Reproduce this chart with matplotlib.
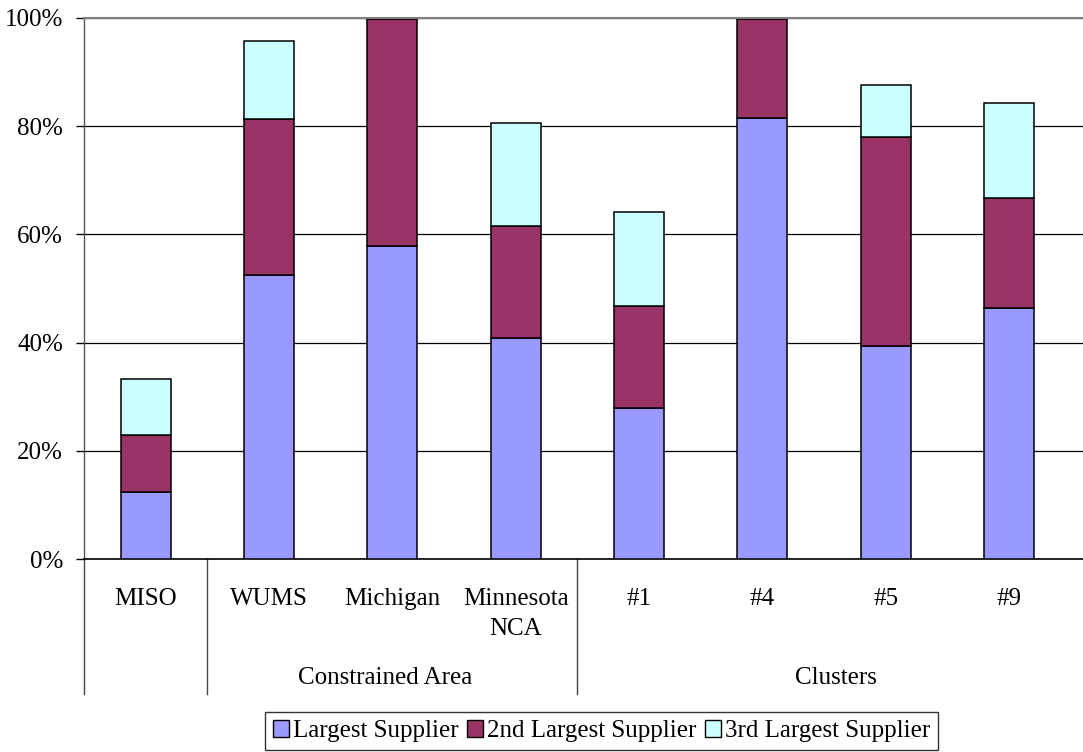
import matplotlib
matplotlib.use("Agg")
import matplotlib.pyplot as plt
import numpy as np
from matplotlib.ticker import PercentFormatter, MultipleLocator
from matplotlib.patches import Patch
import matplotlib.transforms as mtransforms

plt.rcParams['font.family'] = ['Liberation Serif', 'DejaVu Serif']

# Market share of the three largest suppliers (percent)
categories = ["MISO", "WUMS", "Michigan", "Minnesota\nNCA", "#1", "#4", "#5", "#9"]
largest = [12.4, 52.5, 57.9, 40.9, 28.0, 81.5, 39.4, 46.4]
second = [10.6, 28.9, 41.8, 20.6, 18.8, 18.3, 38.5, 20.4]
third = [10.3, 14.3, 0.3, 19.0, 17.4, 0.2, 9.6, 17.5]
series_names = ["Largest Supplier", "2nd Largest Supplier", "3rd Largest Supplier"]
colors = ["#9999FF", "#993366", "#CCFFFF"]

# Category groups: (label, label position along the category axis)
groups = [("Constrained Area", 1.94), ("Clusters", 5.6)]

W, H = 1083, 752
fig = plt.figure(figsize=(W / 100, H / 100), dpi=100)
left, right = 84, 1083
top, bottom = 17.8, 559.3
ax = fig.add_axes([left / W, 1 - bottom / H, (right - left) / W, (bottom - top) / H])

x = np.arange(len(categories))
bw = 0.405
fs = 18
bottoms = np.zeros(len(categories))
for vals, col in zip([largest, second, third], colors):
    ax.bar(x, vals, bw, bottom=bottoms, color=col, edgecolor="black",
           linewidth=1.1, zorder=3)
    bottoms += np.array(vals)

ax.set_xlim(-0.5, 7.6)
ax.set_ylim(0, 100)
ax.yaxis.set_major_locator(MultipleLocator(20))
ax.yaxis.set_major_formatter(PercentFormatter(decimals=0))
ax.yaxis.grid(True, color="black", linewidth=0.9, zorder=0)
ax.set_axisbelow(True)

ax.set_xticks(x)
ax.set_xticklabels(categories, fontsize=fs, linespacing=1.5)
ax.tick_params(axis="x", length=0, pad=20.5)
ax.tick_params(axis="y", labelsize=fs, length=6, width=1.0, pad=9,
               color="black")

ax.spines["right"].set_visible(False)
ax.spines["top"].set_color("#808080")
ax.spines["top"].set_linewidth(1.5)
ax.spines["top"].set_zorder(4)
ax.spines["left"].set_color("#555555")
ax.spines["left"].set_linewidth(1.0)
ax.spines["bottom"].set_color("black")
ax.spines["bottom"].set_linewidth(1.2)

# Group separators and group labels beneath the category axis
trans = mtransforms.blended_transform_factory(ax.transData, ax.transAxes)
sep_bottom = (bottom - 694) / (bottom - top)
for xs in [-0.5, 0.5, 3.5]:
    ax.plot([xs, xs], [0, sep_bottom], transform=trans, color="#444444",
            linewidth=1.0, clip_on=False)
label_y = (bottom - 678) / (bottom - top)
for name, xc in groups:
    ax.text(xc, label_y, name, transform=trans, ha="center", va="center",
            fontsize=fs)

handles = [Patch(facecolor=c, edgecolor="black", linewidth=1.0) for c in colors]
leg = fig.legend(handles, series_names, loc="center",
                 bbox_to_anchor=(601.5 / W, 1 - 731 / H), ncol=3,
                 fontsize=fs, frameon=True, fancybox=False,
                 handlelength=0.65, handleheight=0.65, handletextpad=0.15,
                 columnspacing=0.35, borderpad=0.3, borderaxespad=0)
leg.get_frame().set_edgecolor("black")
leg.get_frame().set_linewidth(1.0)

fig.savefig("out.png", dpi=100)
